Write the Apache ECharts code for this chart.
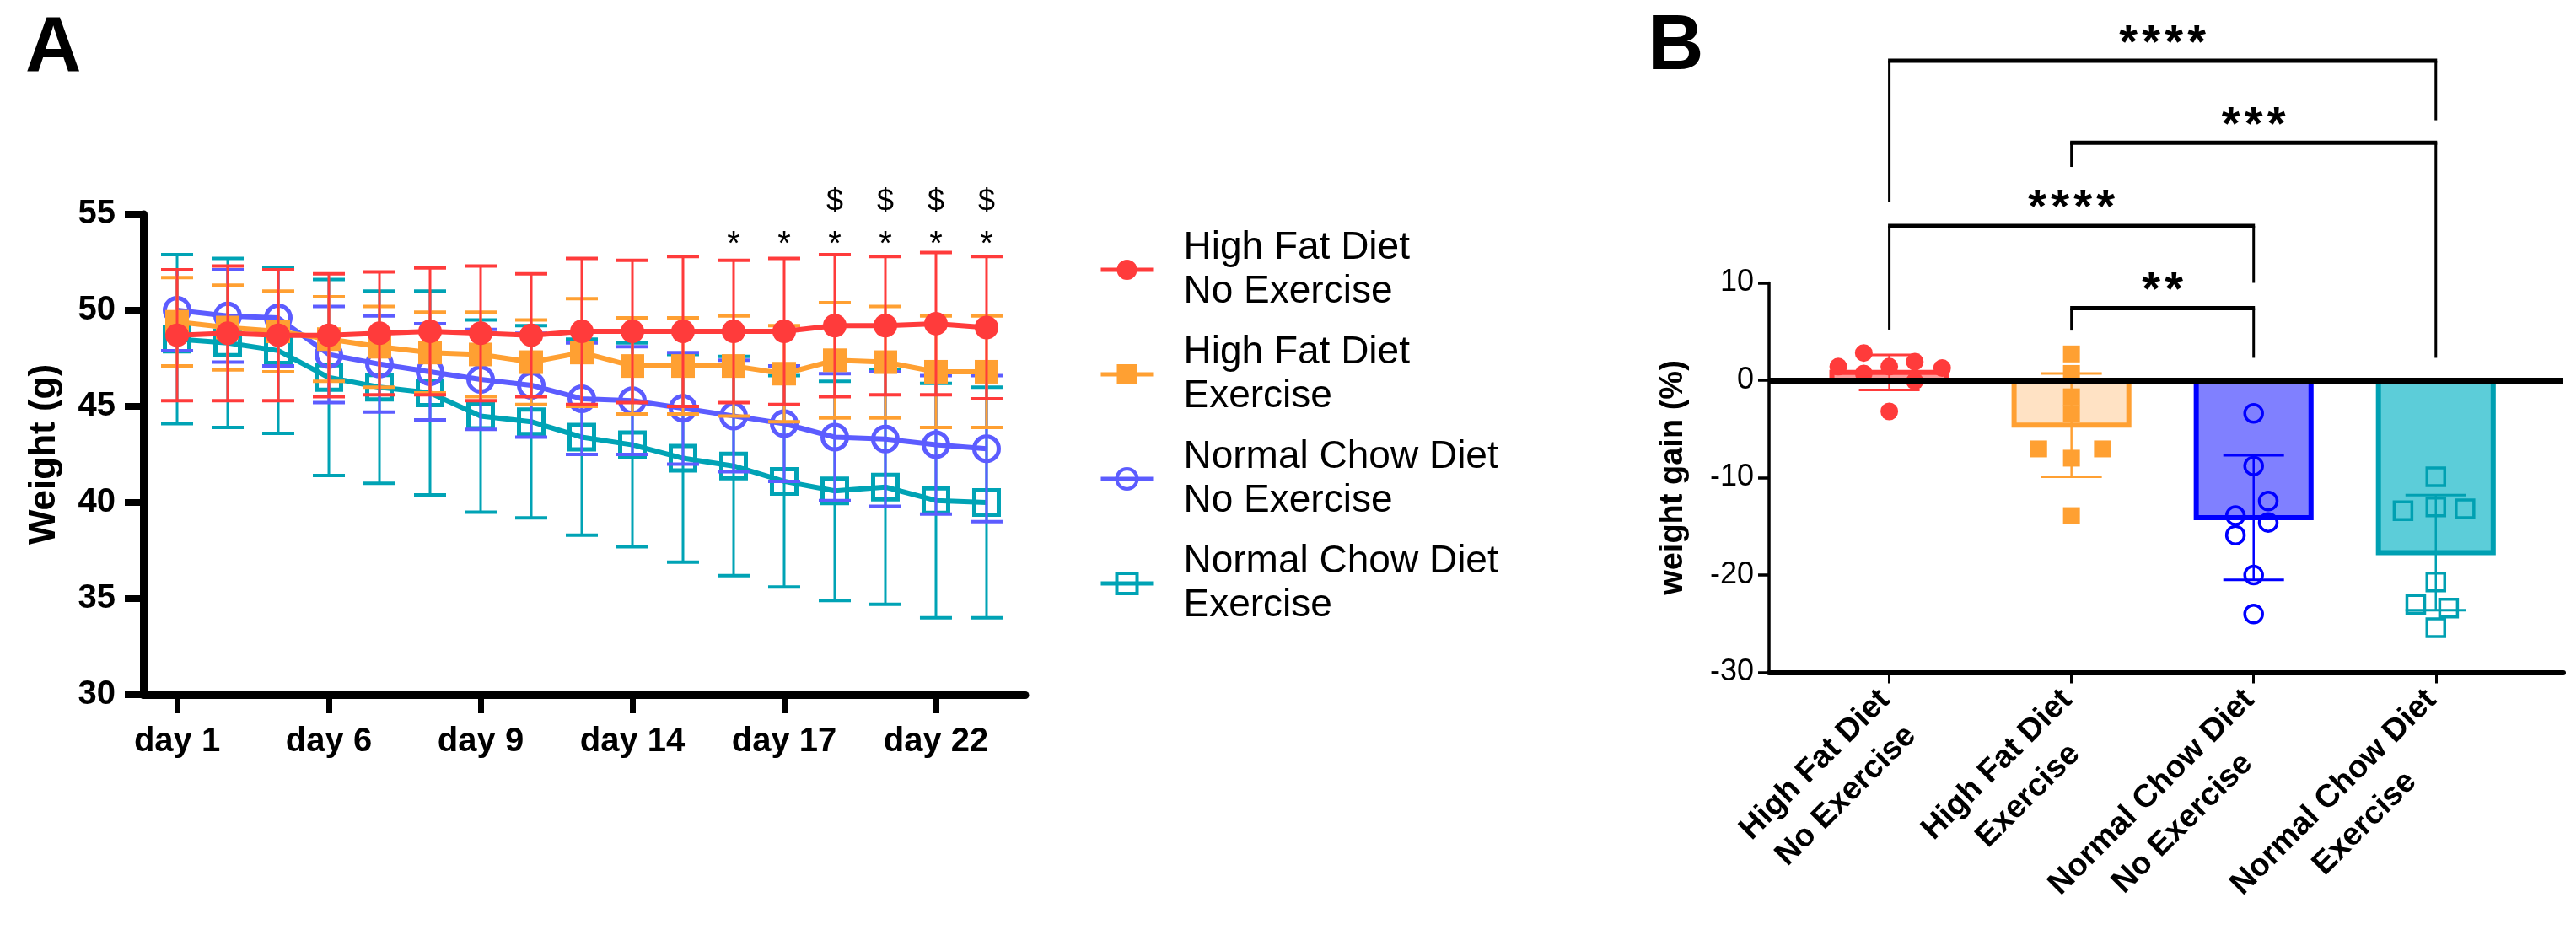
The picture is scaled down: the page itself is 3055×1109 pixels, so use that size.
<!DOCTYPE html>
<html>
<head>
<meta charset="utf-8">
<script src="https://cdn.jsdelivr.net/npm/echarts@6/dist/echarts.min.js"></script>
<style>html,body{margin:0;padding:0;background:#fff}#c{width:3055px;height:1109px}</style>
</head>
<body>
<div id="c"></div>
<script>
// ---------------- Panel A data (body weight over time, mean ± SD) ----------------
const dayTickIndex = [0, 3, 6, 9, 12, 15];
const dayTickLabels = ['day 1', 'day 6', 'day 9', 'day 14', 'day 17', 'day 22'];
const seriesNames = ['High Fat Diet\nNo Exercise', 'High Fat Diet\nExercise', 'Normal Chow Diet\nNo Exercise', 'Normal Chow Diet\nExercise'];

const hfdNoExMean = [48.7, 48.8, 48.7, 48.7, 48.8, 48.9, 48.8, 48.7, 48.9, 48.9, 48.9, 48.9, 48.9, 49.2, 49.2, 49.3, 49.1];
const hfdNoExSD   = [3.4, 3.5, 3.4, 3.2, 3.2, 3.3, 3.5, 3.2, 3.8, 3.7, 3.9, 3.7, 3.8, 3.7, 3.6, 3.7, 3.7];
const hfdExMean   = [49.4, 49.1, 48.9, 48.5, 48.1, 47.8, 47.7, 47.3, 47.8, 47.1, 47.1, 47.1, 46.7, 47.4, 47.3, 46.8, 46.8];
const hfdExSD     = [2.3, 2.2, 2.1, 2.2, 2.1, 2.1, 2.2, 2.2, 2.8, 2.5, 2.5, 2.6, 2.5, 3.0, 2.9, 2.9, 2.9];
const ncdNoExMean = [50.0, 49.7, 49.6, 47.7, 47.2, 46.8, 46.4, 46.1, 45.4, 45.3, 44.9, 44.5, 44.1, 43.4, 43.3, 43.0, 42.8];
const ncdNoExSD   = [2.1, 2.4, 2.5, 2.5, 2.5, 2.5, 2.6, 2.7, 2.9, 2.8, 2.9, 2.9, 3.0, 3.3, 3.5, 3.6, 3.8];
const ncdExMean   = [48.5, 48.3, 47.9, 46.5, 46.0, 45.7, 44.5, 44.2, 43.4, 43.0, 42.3, 41.9, 41.1, 40.6, 40.8, 40.1, 40.0];
const ncdExSD     = [4.4, 4.4, 4.3, 5.1, 5.0, 5.3, 5.0, 5.0, 5.1, 5.3, 5.4, 5.7, 5.5, 5.7, 6.1, 6.1, 6.0];

const starIndex = [11, 12, 13, 14, 15, 16];
const dollarIndex = [13, 14, 15, 16];
const starLevel = 53.4;
const dollarLevel = 55.6;

// ---------------- Panel B data (weight gain %, mean ± SD with individual animals) ----------------
const gainMean = [0.8, -4.6, -14.1, -17.7];
const gainSD   = [1.8, 5.3, 6.4, 5.9];
const hfdNoExGain = [1.4, 2.8, 0.7, 1.4, -3.2, 1.9, -0.1, 1.25];
const hfdNoExJitter = [-0.28, -0.14, -0.14, 0, 0, 0.14, 0.14, 0.29];
const hfdExGain = [2.7, 0.7, -1.7, -3.4, -7.05, -7.05, -8.0, -13.9];
const hfdExJitter = [0, 0, 0, 0, -0.18, 0.17, 0, 0];
const ncdNoExGain = [-3.4, -8.8, -12.4, -13.9, -14.6, -15.9, -20.0, -24.0];
const ncdNoExJitter = [0, 0, 0.08, -0.1, 0.08, -0.1, 0, 0];
const ncdExGain = [-9.9, -13.4, -13.0, -13.2, -20.7, -23.0, -23.4, -25.4];
const ncdExJitter = [0, -0.18, 0, 0.16, 0, -0.11, 0.07, 0];

// significance brackets: groups compared, bracket height, leg end heights, label
const bracketFrom = [0, 1, 0, 1];
const bracketTo   = [3, 3, 2, 2];
const bracketLevel = [32.8, 24.4, 15.85, 7.4];
const bracketLegFrom = [18.3, 21.9, 5.2, 5.1];
const bracketLegTo   = [26.7, 2.3, 10.0, 2.3];
const sigLabels = ['****', '***', '****', '**'];

// ---------------- styling ----------------
const FONT = 'Liberation Sans';
const C = { red: '#FF3B3B', orange: '#FFA032', blue: '#5C5CFF', teal: '#00A3B5' };
const CB = {
  fill: ['#FF9C9C', '#FFE2C4', '#8080FF', '#5CCDD9'],
  stroke: ['#FF3B3B', '#FFA032', '#0000FF', '#00A0B2']
};

function errSeries(mean, sd, color, z, axisIdx, capHalf, lw) {
  return {
    type: 'custom', xAxisIndex: axisIdx, yAxisIndex: axisIdx, z: z, silent: true, clip: false,
    data: mean.map((m, i) => [i, m - sd[i], m + sd[i]]),
    encode: { x: 0, y: [1, 2] },
    renderItem(params, api) {
      const x = api.value(0);
      const lo = api.coord([x, api.value(1)]);
      const hi = api.coord([x, api.value(2)]);
      return { type: 'group', children: [
        { type: 'line', shape: { x1: lo[0], y1: lo[1], x2: hi[0], y2: hi[1] }, style: { stroke: color, lineWidth: lw } },
        { type: 'line', shape: { x1: lo[0] - capHalf, y1: lo[1], x2: lo[0] + capHalf, y2: lo[1] }, style: { stroke: color, lineWidth: lw + 1 } },
        { type: 'line', shape: { x1: hi[0] - capHalf, y1: hi[1], x2: hi[0] + capHalf, y2: hi[1] }, style: { stroke: color, lineWidth: lw + 1 } }
      ] };
    }
  };
}

function lineSeries(name, mean, color, symbol, size, filled, z) {
  return {
    type: 'line', name: name, xAxisIndex: 0, yAxisIndex: 0, z: z,
    data: mean.map((m, i) => [i, m]),
    symbol: symbol, symbolSize: size, showSymbol: true, showAllSymbol: true,
    lineStyle: { color: color, width: 6 },
    itemStyle: filled ? { color: color } : { color: 'rgba(255,255,255,0)', borderColor: color, borderWidth: 5 },
    emphasis: { disabled: true }
  };
}

function textMarks(indices, level, txt, size) {
  return {
    type: 'custom', xAxisIndex: 0, yAxisIndex: 0, z: 30, silent: true, clip: false,
    data: indices.map(i => [i, level]),
    encode: { x: 0, y: 1 },
    renderItem(params, api) {
      const p = api.coord([api.value(0), api.value(1)]);
      return { type: 'text', x: p[0], y: p[1], style: { text: txt, fontSize: size, fontFamily: FONT, fill: '#000', align: 'center', verticalAlign: 'middle' } };
    }
  };
}

function pointSeries(vals, jitter, g, symbol, size, filled, color, z, extra) {
  const s = {
    type: 'scatter', name: 'pts' + g, xAxisIndex: 1, yAxisIndex: 1, z: z, silent: true,
    data: vals.map((v, k) => [g + jitter[k], v]),
    symbol: symbol, symbolSize: size,
    itemStyle: filled ? { color: color, opacity: 1 } : { color: 'rgba(255,255,255,0)', borderColor: color, borderWidth: 3.5, opacity: 1 },
    emphasis: { disabled: true }
  };
  return Object.assign(s, extra || {});
}

// measure label widths for centered two-line rotated labels
const mctx = document.createElement('canvas').getContext('2d');
mctx.font = 'bold 38px "' + FONT + '"';
const rich = {};
seriesNames.forEach((n, i) => {
  const w = Math.max(...n.split('\n').map(s => mctx.measureText(s).width));
  rich['g' + i] = { width: Math.ceil(w) + 2, align: 'center', fontSize: 38, fontWeight: 'bold', fontFamily: FONT, lineHeight: 52, color: '#000' };
});

const chart = echarts.init(document.getElementById('c'), null, { renderer: 'canvas' });

const option = {
  animation: false,
  backgroundColor: '#fff',
  textStyle: { fontFamily: FONT },
  graphic: [
    { type: 'text', left: 30, top: 13, style: { text: 'A', font: 'bold 92px "' + FONT + '"', fill: '#000' } },
    { type: 'text', left: 1954, top: 11, style: { text: 'B', font: 'bold 92px "' + FONT + '"', fill: '#000' } }
  ],
  legend: {
    orient: 'vertical', left: 1303, top: 268, padding: 0,
    itemWidth: 62, itemHeight: 30, itemGap: 20, selectedMode: false,
    lineStyle: { width: 5 },
    itemStyle: { borderWidth: 4 },
    textStyle: { fontSize: 46, lineHeight: 52, color: '#000', fontFamily: FONT, padding: [0, 0, 0, 31] },
    data: [
      { name: seriesNames[0], itemStyle: { borderWidth: 0 } },
      { name: seriesNames[1], itemStyle: { borderWidth: 0 } },
      { name: seriesNames[2] },
      { name: seriesNames[3] }
    ]
  },
  grid: [
    { left: 170, top: 254, width: 1046, height: 570 },
    { left: 2098, top: 335.5, width: 942, height: 481.5 }
  ],
  xAxis: [
    {
      type: 'value', gridIndex: 0, min: -0.667, max: 16.767,
      axisLine: { show: true, onZero: false, lineStyle: { color: '#000', width: 9 } },
      axisTick: { show: true, customValues: dayTickIndex, length: 22, lineStyle: { color: '#000', width: 7 } },
      axisLabel: {
        customValues: dayTickIndex, margin: 36, fontSize: 40, fontWeight: 'bold', color: '#000', fontFamily: FONT,
        formatter: v => dayTickLabels[dayTickIndex.indexOf(Math.round(v))] || ''
      },
      splitLine: { show: false }
    },
    {
      type: 'value', gridIndex: 1, min: -0.66, max: 3.70,
      axisLine: { show: true, onZero: false, lineStyle: { color: '#000', width: 6 } },
      axisTick: { show: true, customValues: [0, 1, 2, 3], length: 13, lineStyle: { color: '#000', width: 3 } },
      axisLabel: {
        customValues: [0, 1, 2, 3], rotate: 45, margin: 30, color: '#000', fontSize: 38, fontWeight: 'bold',
        padding: [40, 0, 0, 0], rich: rich,
        formatter: v => { const i = Math.round(v); return seriesNames[i].split('\n').map(s => '{g' + i + '|' + s + '}').join('\n'); }
      },
      splitLine: { show: false }
    }
  ],
  yAxis: [
    {
      type: 'value', gridIndex: 0, min: 30, max: 55, interval: 5,
      name: 'Weight (g)', nameLocation: 'middle', nameGap: 95,
      nameTextStyle: { fontSize: 44, fontWeight: 'bold', color: '#000', fontFamily: FONT },
      axisLine: { show: true, onZero: false, lineStyle: { color: '#000', width: 9 } },
      axisTick: { show: true, length: 22, lineStyle: { color: '#000', width: 8 } },
      axisLabel: { margin: 33, fontSize: 40, fontWeight: 'bold', color: '#000', fontFamily: FONT },
      splitLine: { show: false }
    },
    {
      type: 'value', gridIndex: 1, min: -30, max: 10, interval: 10,
      name: 'weight gain (%)', nameLocation: 'middle', nameGap: 94,
      nameTextStyle: { fontSize: 38, fontWeight: 'bold', color: '#000', fontFamily: FONT },
      axisLine: { show: true, onZero: false, lineStyle: { color: '#000', width: 3.5 } },
      axisTick: { show: true, length: 13, lineStyle: { color: '#000', width: 3.5 } },
      axisLabel: { margin: 18, fontSize: 36, color: '#000', fontFamily: FONT },
      splitLine: { show: false }
    }
  ],
  series: [
    // Panel A: error bars under each line, red drawn on top
    errSeries(ncdExMean, ncdExSD, C.teal, 1, 0, 19, 3),
    lineSeries(seriesNames[3], ncdExMean, C.teal, 'rect', 29, false, 2),
    errSeries(ncdNoExMean, ncdNoExSD, C.blue, 3, 0, 19, 3),
    lineSeries(seriesNames[2], ncdNoExMean, C.blue, 'circle', 29, false, 4),
    errSeries(hfdExMean, hfdExSD, C.orange, 5, 0, 19, 3),
    lineSeries(seriesNames[1], hfdExMean, C.orange, 'rect', 28, true, 6),
    errSeries(hfdNoExMean, hfdNoExSD, C.red, 7, 0, 19, 3),
    lineSeries(seriesNames[0], hfdNoExMean, C.red, 'circle', 28, true, 8),
    textMarks(starIndex, starLevel, '*', 40),
    textMarks(dollarIndex, dollarLevel, '$', 36),

    // Panel B: bars
    {
      type: 'custom', xAxisIndex: 1, yAxisIndex: 1, z: 2, silent: true, clip: false,
      data: gainMean.map((m, i) => [i, m]),
      encode: { x: 0, y: 1 },
      renderItem(params, api) {
        const i = params.dataIndex;
        const x = api.value(0);
        const p0 = api.coord([x - 0.315, 0]);
        const p1 = api.coord([x + 0.315, api.value(1)]);
        return {
          type: 'rect',
          shape: { x: p0[0], y: Math.min(p0[1], p1[1]), width: p1[0] - p0[0], height: Math.abs(p1[1] - p0[1]) },
          style: { fill: CB.fill[i], stroke: CB.stroke[i], lineWidth: 6 }
        };
      }
    },
    // Panel B: error bars
    {
      type: 'custom', xAxisIndex: 1, yAxisIndex: 1, z: 3, silent: true, clip: false,
      data: gainMean.map((m, i) => [i, m - gainSD[i], m + gainSD[i]]),
      encode: { x: 0, y: [1, 2] },
      renderItem(params, api) {
        const i = params.dataIndex;
        const col = CB.stroke[i];
        const x = api.value(0);
        const lo = api.coord([x, api.value(1)]);
        const hi = api.coord([x, api.value(2)]);
        const h = 36;
        return { type: 'group', children: [
          { type: 'line', shape: { x1: lo[0], y1: lo[1], x2: hi[0], y2: hi[1] }, style: { stroke: col, lineWidth: 2.5 } },
          { type: 'line', shape: { x1: lo[0] - h, y1: lo[1], x2: lo[0] + h, y2: lo[1] }, style: { stroke: col, lineWidth: 3 } },
          { type: 'line', shape: { x1: hi[0] - h, y1: hi[1], x2: hi[0] + h, y2: hi[1] }, style: { stroke: col, lineWidth: 3 } }
        ] };
      }
    },
    // Panel B: individual animals
    pointSeries(hfdNoExGain, hfdNoExJitter, 0, 'circle', 21, true, CB.stroke[0], 4),
    pointSeries(hfdExGain, hfdExJitter, 1, 'rect', 20, true, CB.stroke[1], 4),
    pointSeries(ncdNoExGain, ncdNoExJitter, 2, 'circle', 21, false, CB.stroke[2], 4),
    pointSeries(ncdExGain, ncdExJitter, 3, 'rect', 21, false, CB.stroke[3], 4, {
      markLine: {
        silent: true, symbol: ['none', 'none'], z: 10, label: { show: false },
        lineStyle: { color: '#000', width: 7, type: 'solid' }, emphasis: { disabled: true },
        data: [{ yAxis: 0 }]
      }
    }),
    // Panel B: significance brackets
    {
      type: 'custom', xAxisIndex: 1, yAxisIndex: 1, z: 10, silent: true, clip: false,
      data: bracketFrom.map((f, i) => [f, bracketTo[i], bracketLevel[i], bracketLegFrom[i], bracketLegTo[i]]),
      encode: { x: [0, 1], y: [2, 3, 4] },
      renderItem(params, api) {
        const i = params.dataIndex;
        const pA = api.coord([api.value(0), api.value(2)]);
        const pB = api.coord([api.value(1), api.value(2)]);
        const pA2 = api.coord([api.value(0), api.value(3)]);
        const pB2 = api.coord([api.value(1), api.value(4)]);
        const children = [
          { type: 'line', shape: { x1: pA[0] - 1.5, y1: pA[1], x2: pB[0] + 1.5, y2: pB[1] }, style: { stroke: '#000', lineWidth: 5 } },
          { type: 'line', shape: { x1: pA[0], y1: pA[1], x2: pA2[0], y2: pA2[1] }, style: { stroke: '#000', lineWidth: 3 } },
          { type: 'line', shape: { x1: pB[0], y1: pB[1], x2: pB2[0], y2: pB2[1] }, style: { stroke: '#000', lineWidth: 3 } }
        ];
        const txt = sigLabels[i];
        const n = txt.length;
        const cx = (pA[0] + pB[0]) / 2;
        for (let k = 0; k < n; k++) {
          children.push({ type: 'text', x: cx + (k - (n - 1) / 2) * 27, y: pA[1] - 20,
            style: { text: '*', font: 'bold 56px "' + FONT + '"', fill: '#000', align: 'center', verticalAlign: 'middle' } });
        }
        return { type: 'group', children: children };
      }
    }
  ]
};

chart.setOption(option);
</script>
</body>
</html>
